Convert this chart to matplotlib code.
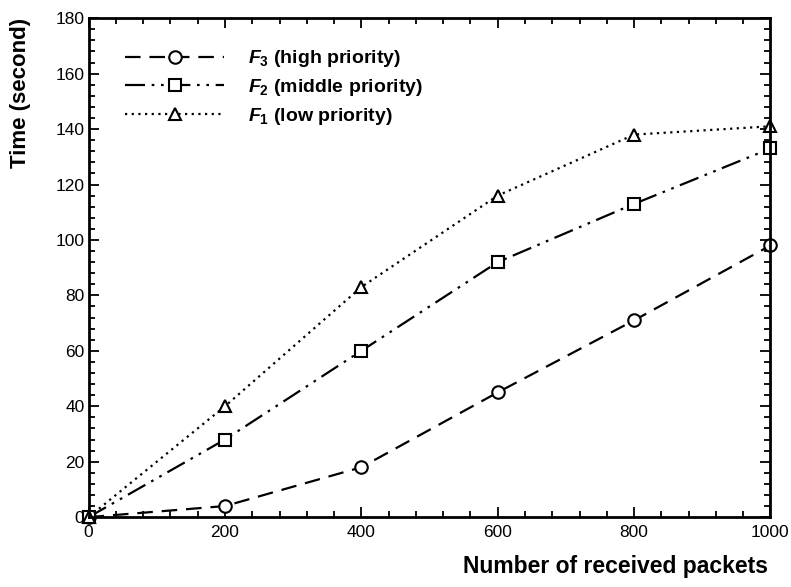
import matplotlib
matplotlib.use("Agg")
import matplotlib.pyplot as plt
from matplotlib.ticker import MultipleLocator

plt.rcParams['font.family'] = ['Liberation Sans', 'DejaVu Sans']
plt.rcParams['mathtext.fontset'] = 'custom'
plt.rcParams['mathtext.it'] = 'Liberation Sans:italic:bold'
plt.rcParams['mathtext.rm'] = 'Liberation Sans:bold'
plt.rcParams['mathtext.bf'] = 'Liberation Sans:bold'

# data
packets = [0, 200, 400, 600, 800, 1000]
f3_high = [0, 4, 18, 45, 71, 98]
f2_middle = [0, 28, 60, 92, 113, 133]
f1_low = [0, 40, 83, 116, 138, 141]

labels = [r"$F_3$ (high priority)", r"$F_2$ (middle priority)", r"$F_1$ (low priority)"]

fig = plt.figure(figsize=(7.91, 5.87), dpi=100)
ax = fig.add_axes([0.112, 0.119, 0.862, 0.850])

ax.plot(packets, f3_high, color='black', lw=1.6, linestyle=(0, (7, 4)),
        marker='o', ms=9, mfc='white', mec='black', mew=1.5, clip_on=False,
        label=labels[0])
ax.plot(packets, f2_middle, color='black', lw=1.6,
        linestyle=(0, (9, 3, 1.2, 3, 1.2, 3)),
        marker='s', ms=8, mfc='white', mec='black', mew=1.5, clip_on=False,
        label=labels[1])
ax.plot(packets, f1_low, color='black', lw=1.6, linestyle=(0, (1, 2)),
        marker='^', ms=9, mfc='white', mec='black', mew=1.5, clip_on=False,
        label=labels[2])

ax.set_xlim(0, 1000)
ax.set_ylim(0, 180)
ax.xaxis.set_major_locator(MultipleLocator(200))
ax.xaxis.set_minor_locator(MultipleLocator(40))
ax.yaxis.set_major_locator(MultipleLocator(20))
ax.yaxis.set_minor_locator(MultipleLocator(4))

ax.tick_params(which='both', direction='in', top=True, right=True, width=1.3,
               labelsize=12.5)
ax.tick_params(which='major', length=7, pad=6)
ax.tick_params(which='minor', length=4)
ax.tick_params(axis='y', which='major', pad=3)

for s in ax.spines.values():
    s.set_linewidth(2)

ax.set_xlabel('Number of received packets', fontsize=16.5, fontweight='bold',
              loc='right')
ax.set_ylabel('Time (second)', fontsize=16, fontweight='bold', loc='top')
ax.xaxis.set_label_coords(0.996, -0.075)
ax.yaxis.set_label_coords(-0.085, 1.0)

leg = ax.legend(loc='upper left', frameon=False, fontsize=14, handlelength=5.1,
                handletextpad=1.2, labelspacing=0.4,
                bbox_to_anchor=(0.042, 0.955), borderaxespad=0)
for t in leg.get_texts():
    t.set_fontweight('bold')

fig.savefig('out.png', dpi=100)
